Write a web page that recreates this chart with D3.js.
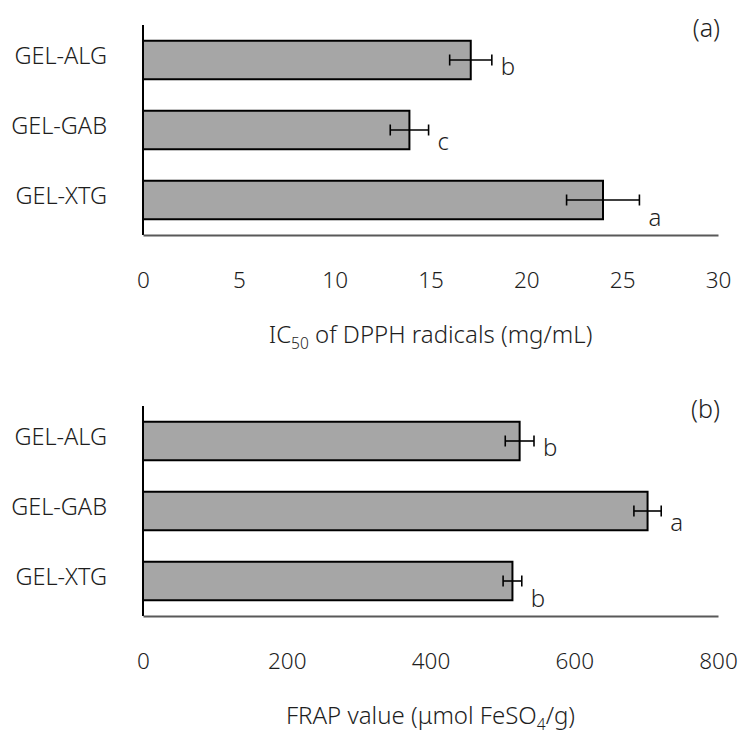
<!DOCTYPE html>
<html>
<head>
<meta charset="utf-8">
<script src="https://cdn.jsdelivr.net/npm/d3@7"></script>
<style>
  html, body { margin: 0; padding: 0; background: #fff; }
  #chart { font-family: "Noto Sans", "Open Sans", sans-serif; font-weight: 300; }
  #chart text { fill: #1e1e1e; }
</style>
</head>
<body>
<svg id="chart" width="744" height="733"></svg>
<script>
// Sample names (shared by both panels)
const categories = ["GEL-ALG", "GEL-GAB", "GEL-XTG"];

// (a) DPPH radical scavenging, IC50 in mg/mL
const dpphIC50 = [17.1, 13.9, 24.0];
const dpphSD = [1.1, 1.0, 1.9];
const dpphGroups = ["b", "c", "a"];
const dpphTicks = [0, 5, 10, 15, 20, 25, 30];

// (b) FRAP value in µmol FeSO4/g
const frapValues = [524, 702, 514];
const frapSD = [20, 19, 13];
const frapGroups = ["b", "a", "b"];
const frapTicks = [0, 200, 400, 600, 800];

const svg = d3.select("#chart");
const plotLeft = 143, plotRight = 718;

function drawPanel(opts) {
  const g = svg.append("g");
  const x = d3.scaleLinear()
    .domain([opts.ticks[0], opts.ticks[opts.ticks.length - 1]])
    .range([plotLeft, plotRight]);
  const y = d3.scaleBand()
    .domain(categories)
    .range([opts.top, opts.bottom])
    .paddingInner(0.45)
    .paddingOuter(0.225);

  const rows = categories.map((c, i) => ({
    cat: c, v: opts.values[i], e: opts.sd[i], grp: opts.groups[i], i
  }));

  // bars
  g.selectAll("rect.bar").data(rows).join("rect")
    .attr("class", "bar")
    .attr("x", x(0))
    .attr("y", d => y(d.cat))
    .attr("width", d => x(d.v) - x(0))
    .attr("height", y.bandwidth())
    .attr("fill", "#a6a6a6")
    .attr("stroke", "#000")
    .attr("stroke-width", 2);

  // error bars
  const eb = g.selectAll("g.err").data(rows).join("g").attr("class", "err")
    .attr("stroke", "#000").attr("stroke-width", 1.6);
  eb.append("line")
    .attr("x1", d => x(d.v - d.e)).attr("x2", d => x(d.v + d.e))
    .attr("y1", d => y(d.cat) + y.bandwidth() / 2)
    .attr("y2", d => y(d.cat) + y.bandwidth() / 2);
  [d => x(d.v - d.e), d => x(d.v + d.e)].forEach(fx => {
    eb.append("line")
      .attr("x1", fx).attr("x2", fx)
      .attr("y1", d => y(d.cat) + y.bandwidth() / 2 - 5.5)
      .attr("y2", d => y(d.cat) + y.bandwidth() / 2 + 5.5);
  });

  // significance letters
  g.selectAll("text.grp").data(rows).join("text")
    .attr("class", "grp")
    .attr("x", d => x(d.v + d.e) + 9)
    .attr("y", d => y(d.cat) + 34 + 5.5 * d.i)
    .attr("font-size", 24)
    .text(d => d.grp);

  // category labels
  g.selectAll("text.cat").data(rows).join("text")
    .attr("class", "cat")
    .attr("x", 107)
    .attr("y", d => y(d.cat) + y.bandwidth() / 2 + 4)
    .attr("text-anchor", "end")
    .attr("font-size", 23.5)
    .text(d => d.cat);

  // vertical axis line
  g.append("line")
    .attr("x1", plotLeft).attr("x2", plotLeft)
    .attr("y1", opts.top).attr("y2", opts.bottom)
    .attr("stroke", "#000").attr("stroke-width", 2);

  // horizontal axis: line plus tick labels (no tick marks)
  const axis = g.append("g")
    .attr("transform", `translate(0,${opts.bottom})`)
    .call(d3.axisBottom(x).tickValues(opts.ticks).tickSize(0).tickPadding(0));
  axis.attr("font-family", null).attr("font-size", null);
  axis.select(".domain")
    .attr("stroke", "#595959").attr("stroke-width", 2.2);
  axis.selectAll(".tick text")
    .attr("dy", null)
    .attr("y", 53)
    .attr("font-size", 22.5)
    .attr("fill", "#1e1e1e");

  // axis title with a subscript part
  const title = g.append("text")
    .attr("x", (plotLeft + plotRight) / 2)
    .attr("y", opts.bottom + 108)
    .attr("text-anchor", "middle")
    .attr("font-size", 24);
  let shift = 0;
  opts.title.forEach(part => {
    const ts = title.append("tspan").text(part.text);
    if (part.sub) {
      ts.attr("font-size", 15.5).attr("dy", 6);
      shift = -6;
    } else if (shift) {
      ts.attr("dy", shift);
      shift = 0;
    }
  });

  // panel tag
  g.append("text")
    .attr("x", plotRight + 2)
    .attr("y", opts.top + 12)
    .attr("text-anchor", "end")
    .attr("font-size", 25)
    .text(opts.tag);
}

drawPanel({
  values: dpphIC50, sd: dpphSD, groups: dpphGroups, ticks: dpphTicks,
  top: 25, bottom: 235, tag: "(a)",
  title: [{ text: "IC" }, { text: "50", sub: true }, { text: " of DPPH radicals (mg/mL)" }]
});

drawPanel({
  values: frapValues, sd: frapSD, groups: frapGroups, ticks: frapTicks,
  top: 406, bottom: 616, tag: "(b)",
  title: [{ text: "FRAP value (μmol FeSO" }, { text: "4", sub: true }, { text: "/g)" }]
});
</script>
</body>
</html>
